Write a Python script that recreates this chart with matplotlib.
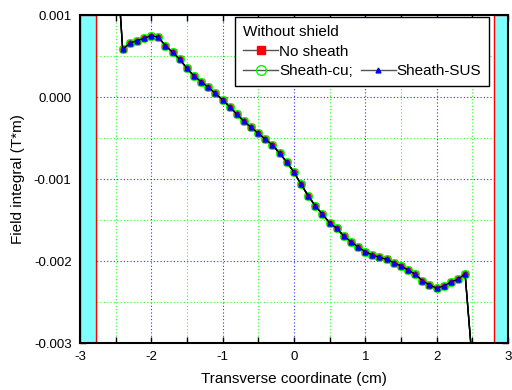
import matplotlib
matplotlib.use("Agg")
import matplotlib.pyplot as plt
from matplotlib.lines import Line2D
from matplotlib.ticker import MultipleLocator, FormatStrFormatter

plt.rcParams['font.family'] = ['Liberation Sans', 'DejaVu Sans']

# transverse position (cm) and field integral (T*m)
x_cm = [-2.5, -2.4, -2.3, -2.2, -2.1, -2.0, -1.9, -1.8, -1.7, -1.6, -1.5,
        -1.4, -1.3, -1.2, -1.1, -1.0, -0.9, -0.8, -0.7, -0.6, -0.5,
        -0.4, -0.3, -0.2, -0.1, 0.0, 0.1, 0.2, 0.3, 0.4, 0.5,
        0.6, 0.7, 0.8, 0.9, 1.0, 1.1, 1.2, 1.3, 1.4, 1.5,
        1.6, 1.7, 1.8, 1.9, 2.0, 2.1, 2.2, 2.3, 2.4, 2.5]
no_sheath = [0.0019, 0.000582, 0.000655, 0.000687, 0.000716, 0.000748, 0.000728,
             0.000626, 0.000545, 0.000460, 0.000350, 0.000256, 0.000187,
             0.000118, 0.000045, -0.000035, -0.000118, -0.000210, -0.000295,
             -0.000370, -0.000440, -0.000516, -0.000585, -0.000687, -0.000793,
             -0.000915, -0.001065, -0.001203, -0.001329, -0.001430, -0.001533,
             -0.001601, -0.001695, -0.001765, -0.001830, -0.001886, -0.001927,
             -0.001955, -0.001980, -0.002020, -0.002060, -0.002110, -0.002160,
             -0.002240, -0.002290, -0.002333, -0.002305, -0.002260, -0.002220,
             -0.002160, -0.00322]
sheath_cu = list(no_sheath)
sheath_sus = list(no_sheath)

fig = plt.figure(figsize=(5.12, 3.9), dpi=100)
ax = fig.add_axes([0.156, 0.1205, 0.836, 0.841])

# magnet poles
ax.axvspan(-3, -2.78, facecolor='#80ffff', edgecolor='red', lw=1, zorder=1)
ax.axvspan(2.8, 3, facecolor='#80ffff', edgecolor='red', lw=1, zorder=1)

ax.plot(x_cm, no_sheath, '-', color='black', lw=1, marker='s', ms=4,
        mfc='red', mec='red', zorder=3)
ax.plot(x_cm, sheath_cu, '-', color='black', lw=1, marker='o', ms=5.5,
        mfc='none', mec='#00ff00', mew=1, zorder=4)
ax.plot(x_cm, sheath_sus, '-', color='black', lw=1, marker='^', ms=3.5,
        mfc='blue', mec='blue', zorder=5)

ax.set_xlim(-3, 3)
ax.set_ylim(-0.003, 0.001)
ax.xaxis.set_major_locator(MultipleLocator(1))
ax.xaxis.set_minor_locator(MultipleLocator(0.5))
ax.yaxis.set_major_locator(MultipleLocator(0.001))
ax.yaxis.set_minor_locator(MultipleLocator(0.0005))
ax.yaxis.set_major_formatter(FormatStrFormatter('%.3f'))
ax.xaxis.set_major_formatter(FormatStrFormatter('%g'))

ax.grid(which='major', color='#3030ff', ls=(0, (1, 2)), lw=0.8)
ax.grid(which='minor', color='#30ff30', ls=(0, (1, 2)), lw=0.8)
ax.set_axisbelow(True)

ax.tick_params(which='both', direction='in', top=True, right=True,
               labelsize=9.5, length=4, width=1, pad=6)
for s in ax.spines.values():
    s.set_linewidth(1.5)

ax.set_xlabel('Transverse coordinate (cm)', fontsize=11, labelpad=6)
ax.set_ylabel('Field integral (T*m)', fontsize=11, labelpad=6)

h_no = Line2D([], [], color='#555555', lw=1, marker='s', ms=6, mfc='red', mec='red')
h_cu = Line2D([], [], color='#555555', lw=1, marker='o', ms=7, mfc='none', mec='#00ff00')
h_sus = Line2D([], [], color='#555555', lw=1, marker='^', ms=3.5, mfc='blue', mec='blue')
h_blank = Line2D([], [], color='none')
leg = ax.legend([h_no, h_cu, h_blank, h_sus],
                ['No sheath', 'Sheath-cu;', '', 'Sheath-SUS'],
                title='Without shield', ncol=2, loc='upper right',
                bbox_to_anchor=(0.957, 0.994), fontsize=11, title_fontsize=11,
                fancybox=False, edgecolor='black', framealpha=1,
                handlelength=2.3, handletextpad=0.05, columnspacing=0.5,
                labelspacing=0.35, borderpad=0.55, borderaxespad=0,
                alignment='left')
leg.get_frame().set_linewidth(1)

fig.savefig('out.png', dpi=100)
